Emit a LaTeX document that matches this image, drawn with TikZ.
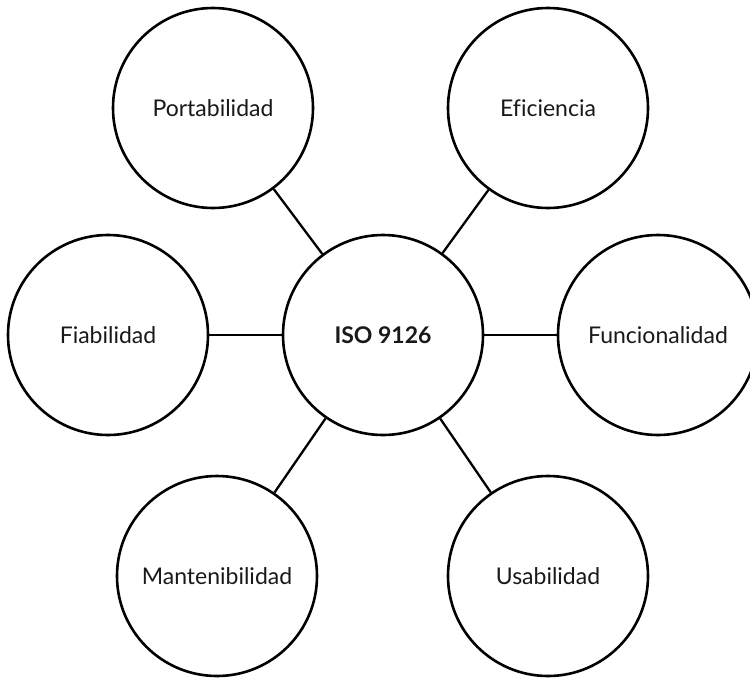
\documentclass[tikz,border=0pt]{standalone}
\usepackage{fontspec}
\setmainfont{Lato}[Ligatures=NoCommon]
\begin{document}
\begin{tikzpicture}[x=1pt,y=-1pt,
  bubble/.style={circle,draw=black,line width=2.6pt,minimum size=200pt,inner sep=0pt,
    font=\fontsize{23}{26}\selectfont,text=black!90},
  hub/.style={bubble,font=\fontsize{23}{26}\selectfont\bfseries},
  link/.style={line width=2.3pt,draw=black}]
  \clip (0,0) rectangle (750,678);
  \useasboundingbox (0,0) rectangle (750,678);
  \node[hub]    (iso)  at (383,335) {ISO 9126};
  \node[bubble] (port) at (213,108) {Portabilidad};
  \node[bubble] (efi)  at (548,108) {Eficiencia};
  \node[bubble] (fia)  at (108,335) {Fiabilidad};
  \node[bubble] (fun)  at (658,335) {Funcionalidad};
  \node[bubble] (man)  at (217,576) {Mantenibilidad};
  \node[bubble] (usa)  at (548,576) {Usabilidad};
  \foreach \n in {port,efi,fia,fun,man,usa}
    \draw[link] (iso) -- (\n);
\end{tikzpicture}
\end{document}
